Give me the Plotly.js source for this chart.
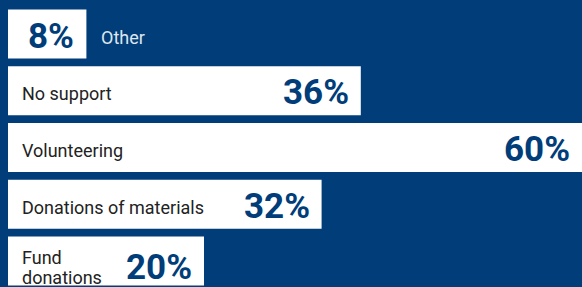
<!DOCTYPE html>
<html><head><meta charset="utf-8">
<script src="https://cdn.plot.ly/plotly-3.0.1.min.js"></script>
<style>html,body{margin:0;padding:0;background:#003d79;}#chart{width:582px;height:287px;}</style>
</head><body><div id="chart"></div>
<script>
const categories = ["Other", "No support", "Volunteering", "Donations of materials", "Fund donations"];
const labels = ["Other", "No support", "Volunteering", "Donations of materials", "Fund<br>donations"];
const values = [8, 36, 60, 32, 20];
const valueText = ["8%", "36%", "60%", "32%", "20%"];

const bg = "#003d79";
const pxPerPct = 9.8;
const W = 582, H = 287;
const xMax = (W - 8) / pxPerPct;
const lineH = 20;

const trace = {
  type: "bar", orientation: "h",
  y: categories, x: values,
  marker: {color: "#ffffff", line: {width: 0}},
  width: 0.865,
  hoverinfo: "none"
};

const annotations = [];
categories.forEach((c, i) => {
  const lines = labels[i].split("<br>");
  const multiline = lines.length > 1;
  annotations.push({
    x: Math.min(values[i], xMax), y: c, xref: "x", yref: "y",
    text: "<b>" + valueText[i] + "</b>", showarrow: false,
    xanchor: "right", yanchor: "middle", xshift: -10, yshift: multiline ? -7 : -2,
    font: {family: "Roboto, sans-serif", size: 35, color: bg, weight: 700}
  });
  const outside = values[i] < 15;
  const center = multiline ? -6.5 : -3;
  lines.forEach((ln, k) => {
    annotations.push({
      x: outside ? values[i] : 0, y: c, xref: "x", yref: "y",
      text: ln, showarrow: false,
      xanchor: "left", yanchor: "middle", xshift: outside ? 13 : 12,
      yshift: center - (k - (lines.length - 1) / 2) * lineH,
      align: "left",
      font: {family: "Roboto, sans-serif", size: 18, color: outside ? "#dfe6ee" : "#222222"}
    });
  });
});

const layout = {
  width: W, height: H,
  margin: {l: 0, r: 0, t: 0, b: 0, pad: 0},
  paper_bgcolor: bg, plot_bgcolor: bg,
  showlegend: false,
  xaxis: {range: [-8 / pxPerPct, xMax], visible: false, fixedrange: true},
  yaxis: {type: "category", range: [4.46, -0.6], visible: false, fixedrange: true},
  annotations: annotations,
  bargap: 0.135
};

Plotly.newPlot("chart", [trace], layout, {staticPlot: true, displayModeBar: false});
</script></body></html>
